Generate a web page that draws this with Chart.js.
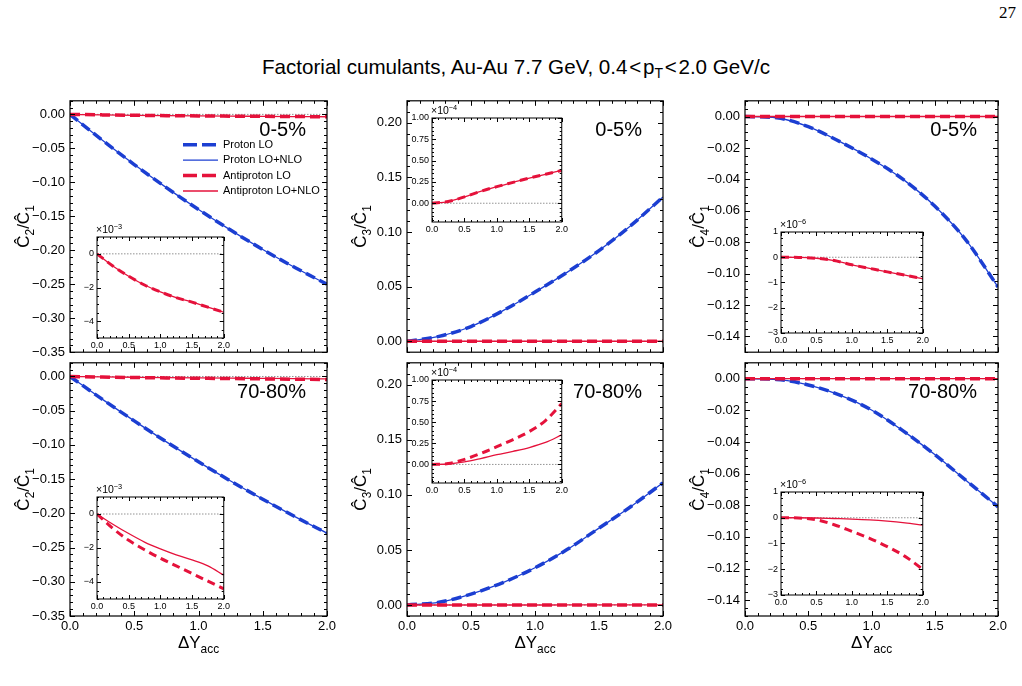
<!DOCTYPE html>
<html>
<head>
<meta charset="utf-8">
<script src="https://cdn.jsdelivr.net/npm/chart.js@4.4.0/dist/chart.umd.min.js"></script>
<style>
  body { margin: 0; background: #fff; }
  #page { position: relative; width: 1022px; height: 686px; overflow: hidden; font-family: "Liberation Sans", Arial, Helvetica, sans-serif; }
  #page canvas { position: absolute; }
  #title { position: absolute; left: 0; width: 1032px; top: 56px; line-height: 22px; text-align: center; font-size: 20.6px; color: #000; }
  #title sub { font-size: 14px; vertical-align: -4px; line-height: 0; }
  #pageno { position: absolute; left: 999px; top: 3px; font-family: "Liberation Serif", "DejaVu Serif", serif; font-size: 17px; }
</style>
</head>
<body>
<div id="page">
  <div id="pageno">27</div>
  <div id="title">Factorial cumulants, Au-Au 7.7 GeV, 0.4&#8202;&lt;&#8202;p<sub>T</sub>&#8202;&lt;&#8202;2.0 GeV/c</div>
</div>
<script>
// acceptance window (x axis) shared by every curve
const dY = [0, 0.25, 0.5, 0.75, 1.0, 1.25, 1.5, 1.75, 2.0];
const xTicks = [0, 0.5, 1.0, 1.5, 2.0];

// C2/C1
const c2ProtonLO_05 = [0, -0.0378, -0.0738, -0.1078, -0.140, -0.1703, -0.1988, -0.2253, -0.250];
const c2ProtonNLO_05 = [0, -0.0378, -0.0738, -0.1078, -0.140, -0.1703, -0.1988, -0.2253, -0.250];
const c2PbarLO_05 = [0, -0.00072, -0.00133, -0.00185, -0.00226, -0.0026, -0.00287, -0.00317, -0.00347];
const c2PbarNLO_05 = [0, -0.00072, -0.00133, -0.00185, -0.00226, -0.0026, -0.00287, -0.00317, -0.00347];
const c2ProtonLO_7080 = [0, -0.0331, -0.0649, -0.0955, -0.1247, -0.1527, -0.1793, -0.2047, -0.229];
const c2ProtonNLO_7080 = [0, -0.0331, -0.0649, -0.0955, -0.1247, -0.1527, -0.1793, -0.2047, -0.229];
const c2PbarLO_7080 = [0, -0.00085, -0.00155, -0.0021, -0.0026, -0.00305, -0.0035, -0.00395, -0.0044];
const c2PbarNLO_7080 = [0, -0.0006, -0.00115, -0.00165, -0.00205, -0.0024, -0.0027, -0.00305, -0.0036];

// C3/C1
const c3ProtonLO_05 = [0, 0.0045, 0.0135, 0.028, 0.045, 0.063, 0.083, 0.106, 0.132];
const c3ProtonNLO_05 = [0, 0.0045, 0.0135, 0.028, 0.045, 0.063, 0.083, 0.106, 0.132];
const c3PbarLO_05 = [0, 0.2e-5, 0.75e-5, 1.4e-5, 1.95e-5, 2.45e-5, 2.95e-5, 3.4e-5, 3.85e-5];
const c3PbarNLO_05 = [0, 0.2e-5, 0.75e-5, 1.4e-5, 1.95e-5, 2.45e-5, 2.95e-5, 3.4e-5, 3.85e-5];
const c3ProtonLO_7080 = [0, 0.0024, 0.0099, 0.0204, 0.0338, 0.0503, 0.0698, 0.0895, 0.111];
const c3ProtonNLO_7080 = [0, 0.0024, 0.0099, 0.0204, 0.0338, 0.0503, 0.0698, 0.0895, 0.111];
const c3PbarLO_7080 = [0, 0.1e-5, 0.6e-5, 1.3e-5, 2.1e-5, 2.95e-5, 3.9e-5, 5.2e-5, 7.2e-5];
const c3PbarNLO_7080 = [0, 0.05e-5, 0.3e-5, 0.7e-5, 1.15e-5, 1.55e-5, 2.0e-5, 2.6e-5, 3.5e-5];

// C4/C1
const c4ProtonLO_05 = [0, -0.0008, -0.0065, -0.016, -0.027, -0.040, -0.057, -0.079, -0.1085];
const c4ProtonNLO_05 = [0, -0.0008, -0.0065, -0.016, -0.027, -0.040, -0.057, -0.079, -0.1085];
const c4PbarLO_05 = [0, -0.005e-6, -0.04e-6, -0.13e-6, -0.3e-6, -0.44e-6, -0.58e-6, -0.71e-6, -0.85e-6];
const c4PbarNLO_05 = [0, -0.005e-6, -0.04e-6, -0.13e-6, -0.3e-6, -0.44e-6, -0.58e-6, -0.71e-6, -0.85e-6];
const c4ProtonLO_7080 = [0, -0.0005, -0.004, -0.0104, -0.0198, -0.033, -0.048, -0.0645, -0.081];
const c4ProtonNLO_7080 = [0, -0.0005, -0.004, -0.0104, -0.0198, -0.033, -0.048, -0.0645, -0.081];
const c4PbarLO_7080 = [0, -0.01e-6, -0.08e-6, -0.27e-6, -0.53e-6, -0.8e-6, -1.12e-6, -1.5e-6, -2.0e-6];
const c4PbarNLO_7080 = [0, 0, -0.01e-6, -0.03e-6, -0.05e-6, -0.08e-6, -0.13e-6, -0.2e-6, -0.29e-6];

// tick values
const c2Ticks = [-0.35, -0.30, -0.25, -0.20, -0.15, -0.10, -0.05, 0.00];
const c3Ticks = [0.00, 0.05, 0.10, 0.15, 0.20];
const c4Ticks = [-0.14, -0.12, -0.10, -0.08, -0.06, -0.04, -0.02, 0.00];
const c2InsetTicks = [-4e-3, -2e-3, 0];
const c3InsetTicks = [0, 0.25e-4, 0.5e-4, 0.75e-4, 1e-4];
const c4InsetTicks = [-3e-6, -2e-6, -1e-6, 0, 1e-6];

const BLUE = '#1c3fd2';
const RED = '#e5123b';
const FONT = '"Liberation Sans", Arial, Helvetica, sans-serif';
Chart.defaults.font.family = FONT;
Chart.defaults.color = '#000';

// panel frames in page pixels
const COLS = [{ l: 70, r: 327 }, { l: 407, r: 663 }, { l: 745, r: 998 }];
const ROWS = [{ t: 98, b: 355 }, { t: 360, b: 616 }];

function pts(vals) {
  return vals.map((v, i) => ({ x: dY[i], y: v }));
}

function fmt(v, dec) {
  if (Math.abs(v) < 1e-12) v = 0;
  return v.toFixed(dec).replace('-', '\u2212');
}

function addCanvas(left, top, w, h) {
  const cv = document.createElement('canvas');
  cv.width = w;
  cv.height = h;
  cv.style.left = left + 'px';
  cv.style.top = top + 'px';
  document.getElementById('page').appendChild(cv);
  return cv;
}

// text with sub (1) / superscript (2) pieces
function drawRich(ctx, parts, x, y, size, align) {
  const widths = parts.map(([t, m]) => {
    ctx.font = (m ? size * 0.7 : size) + 'px ' + FONT;
    return ctx.measureText(t).width;
  });
  const total = widths.reduce((s, w) => s + w, 0);
  let cx = align === 'center' ? x - total / 2 : x;
  ctx.textAlign = 'left';
  ctx.textBaseline = 'alphabetic';
  parts.forEach(([t, m], i) => {
    ctx.font = (m ? size * 0.7 : size) + 'px ' + FONT;
    const dy = m === 1 ? size * 0.28 : m === 2 ? -size * 0.42 : 0;
    ctx.fillText(t, cx, y + dy);
    cx += widths[i];
  });
}

function lineSet(label, vals, color, dashed, order, small) {
  return {
    label: label,
    data: pts(vals),
    borderColor: color,
    borderWidth: dashed ? (small ? 3 : 3.5) : 1.3,
    borderDash: dashed ? (small ? [8, 5] : [10, 5]) : [],
    pointRadius: 0,
    cubicInterpolationMode: 'monotone',
    fill: false,
    order: order
  };
}

function zeroSet() {
  return {
    data: [{ x: xTicks[0], y: 0 }, { x: xTicks[xTicks.length - 1], y: 0 }],
    borderColor: '#777',
    borderWidth: 0.8,
    borderDash: [1.5, 1.5],
    pointRadius: 0,
    order: 9
  };
}

// frame, inward ticks on all sides, labels drawn by hand
function decor(cfg) {
  return {
    id: 'decor',
    beforeDatasetsDraw(chart) {
      if (!cfg.white) return;
      const a = chart.chartArea;
      chart.ctx.save();
      chart.ctx.fillStyle = '#fff';
      chart.ctx.fillRect(a.left, a.top, a.width, a.height);
      chart.ctx.restore();
    },
    afterDatasetsDraw(chart) {
      const { ctx, chartArea: a, scales: { x, y } } = chart;
      const minorVals = (s, step) => {
        const out = [];
        const n0 = Math.ceil(s.min / step - 1e-6), n1 = Math.floor(s.max / step + 1e-6);
        for (let k = n0; k <= n1; k++) out.push(k * step);
        return out;
      };
      ctx.save();
      ctx.strokeStyle = '#000';
      ctx.lineWidth = 1;
      ctx.beginPath();
      const vt = (vals, len) => vals.forEach(v => {
        const px = Math.round(x.getPixelForValue(v)) + 0.5;
        ctx.moveTo(px, a.bottom); ctx.lineTo(px, a.bottom - len);
        ctx.moveTo(px, a.top); ctx.lineTo(px, a.top + len);
      });
      const ht = (vals, len) => vals.forEach(v => {
        const py = Math.round(y.getPixelForValue(v)) + 0.5;
        ctx.moveTo(a.left, py); ctx.lineTo(a.left + len, py);
        ctx.moveTo(a.right, py); ctx.lineTo(a.right - len, py);
      });
      vt(minorVals(x, cfg.xMinor), cfg.minorLen);
      vt(xTicks, cfg.majorLen);
      ht(minorVals(y, cfg.yMinor), cfg.minorLen);
      ht(cfg.yTicks, cfg.majorLen);
      ctx.stroke();
      ctx.lineWidth = cfg.frameWidth;
      ctx.strokeRect(a.left, a.top, a.width, a.height);
      ctx.restore();
    },
    afterDraw(chart) {
      const { ctx, chartArea: a } = chart;
      ctx.save();
      ctx.fillStyle = '#000';
      if (cfg.yTitle) {
        ctx.save();
        ctx.translate(a.left - 41, (a.top + a.bottom) / 2);
        ctx.rotate(-Math.PI / 2);
        drawRich(ctx, cfg.yTitle, 0, 0, 17, 'center');
        ctx.restore();
      }
      if (cfg.xTitle) {
        drawRich(ctx, cfg.xTitle, (a.left + a.right) / 2, a.bottom + 32, 17, 'center');
      }
      if (cfg.corner) {
        ctx.font = '20px ' + FONT;
        ctx.textAlign = 'right';
        ctx.textBaseline = 'middle';
        ctx.fillText(cfg.corner, a.right - 21, a.top + 29.5);
      }
      if (cfg.exp) {
        drawRich(ctx, [['\u00d710', 0], [cfg.exp, 2]], a.left - 1, a.top - 4, 10.5, 'left');
      }
      if (cfg.legend) {
        chart.data.datasets.filter(d => d.label).forEach((d, i) => {
          const yy = a.top + 44 + i * 15.4;
          ctx.strokeStyle = d.borderColor;
          ctx.lineWidth = d.borderWidth;
          ctx.setLineDash(d.borderDash.length ? [14, 5] : []);
          ctx.beginPath();
          ctx.moveTo(a.left + 113, yy);
          ctx.lineTo(a.left + 148, yy);
          ctx.stroke();
          ctx.setLineDash([]);
          ctx.font = '11px ' + FONT;
          ctx.textAlign = 'left';
          ctx.textBaseline = 'middle';
          ctx.fillText(d.label, a.left + 153, yy);
        });
      }
      ctx.restore();
    }
  };
}

function makeMain(col, row, cfg) {
  const bottom = row === ROWS[1];
  const cv = addCanvas(col.l - 70, row.t - 10, col.r - col.l + 84, row.b - row.t + (bottom ? 65 : 20));
  new Chart(cv, {
    type: 'line',
    data: {
      datasets: [
        lineSet('Proton LO', cfg.pLO, BLUE, true, 4),
        lineSet('Proton LO+NLO', cfg.pNLO, BLUE, false, 3),
        lineSet('Antiproton LO', cfg.aLO, RED, true, 2),
        lineSet('Antiproton LO+NLO', cfg.aNLO, RED, false, 1),
        zeroSet()
      ]
    },
    options: {
      responsive: false,
      animation: false,
      layout: { padding: { left: 0, right: 14, top: 10, bottom: bottom ? 0 : 10 } },
      plugins: { legend: { display: false }, tooltip: { enabled: false } },
      scales: {
        x: {
          type: 'linear', min: 0, max: 2,
          grid: { display: false, drawTicks: false },
          border: { display: false },
          afterBuildTicks: s => { s.ticks = xTicks.map(v => ({ value: v })); },
          afterFit: s => { s.height = bottom ? 55 : 0; },
          ticks: { display: bottom, padding: 3, autoSkip: false, maxRotation: 0, font: { size: 13 }, callback: v => fmt(v, 1) }
        },
        y: {
          type: 'linear', min: cfg.yMin, max: cfg.yMax,
          grid: { display: false, drawTicks: false },
          border: { display: false },
          afterBuildTicks: s => { s.ticks = cfg.yTicks.map(v => ({ value: v })); },
          afterFit: s => { s.width = 70; },
          ticks: { padding: 5, autoSkip: false, font: { size: 13 }, callback: v => fmt(v, 2) }
        }
      }
    },
    plugins: [decor({
      yTicks: cfg.yTicks, xMinor: 0.1, yMinor: cfg.yMinor,
      majorLen: 5, minorLen: 3, frameWidth: 1.2,
      yTitle: cfg.yTitle,
      xTitle: bottom ? [['\u0394Y', 0], ['acc', 1]] : null,
      corner: bottom ? '70-80%' : '0-5%',
      legend: cfg.legend
    })]
  });
}

function makeInset(box, cfg) {
  const cv = addCanvas(box.l - 30, box.t - 16, box.r - box.l + 38, box.b - box.t + 30);
  new Chart(cv, {
    type: 'line',
    data: {
      datasets: [
        lineSet('Antiproton LO', cfg.aLO, RED, true, 2, true),
        lineSet('Antiproton LO+NLO', cfg.aNLO, RED, false, 1, true),
        zeroSet()
      ]
    },
    options: {
      responsive: false,
      animation: false,
      layout: { padding: { left: 0, right: 8, top: 16, bottom: 0 } },
      plugins: { legend: { display: false }, tooltip: { enabled: false } },
      scales: {
        x: {
          type: 'linear', min: 0, max: 2,
          grid: { display: false, drawTicks: false },
          border: { display: false },
          afterBuildTicks: s => { s.ticks = xTicks.map(v => ({ value: v })); },
          afterFit: s => { s.height = 14; },
          ticks: { padding: 2, autoSkip: false, maxRotation: 0, font: { size: 9 }, callback: v => fmt(v, 1) }
        },
        y: {
          type: 'linear', min: cfg.yMin, max: cfg.yMax,
          grid: { display: false, drawTicks: false },
          border: { display: false },
          afterBuildTicks: s => { s.ticks = cfg.yTicks.map(v => ({ value: v })); },
          afterFit: s => { s.width = 30; },
          ticks: { padding: 3, autoSkip: false, font: { size: 9 }, callback: v => fmt(v / cfg.unit, cfg.dec) }
        }
      }
    },
    plugins: [decor({
      white: true, yTicks: cfg.yTicks, xMinor: 0.1, yMinor: cfg.yMinor,
      majorLen: 4, minorLen: 2, frameWidth: 1, exp: cfg.exp
    })]
  });
}

const c2Title = [['\u0108', 0], ['2', 1], ['/\u0108', 0], ['1', 1]];
const c3Title = [['\u0108', 0], ['3', 1], ['/\u0108', 0], ['1', 1]];
const c4Title = [['\u0108', 0], ['4', 1], ['/\u0108', 0], ['1', 1]];

// main panels
makeMain(COLS[0], ROWS[0], { pLO: c2ProtonLO_05, pNLO: c2ProtonNLO_05, aLO: c2PbarLO_05, aNLO: c2PbarNLO_05,
  yMin: -0.35, yMax: 0.02, yTicks: c2Ticks, yMinor: 0.01, yTitle: c2Title, legend: true });
makeMain(COLS[0], ROWS[1], { pLO: c2ProtonLO_7080, pNLO: c2ProtonNLO_7080, aLO: c2PbarLO_7080, aNLO: c2PbarNLO_7080,
  yMin: -0.35, yMax: 0.02, yTicks: c2Ticks, yMinor: 0.01, yTitle: c2Title });
makeMain(COLS[1], ROWS[0], { pLO: c3ProtonLO_05, pNLO: c3ProtonNLO_05, aLO: c3PbarLO_05, aNLO: c3PbarNLO_05,
  yMin: -0.01, yMax: 0.22, yTicks: c3Ticks, yMinor: 0.01, yTitle: c3Title });
makeMain(COLS[1], ROWS[1], { pLO: c3ProtonLO_7080, pNLO: c3ProtonNLO_7080, aLO: c3PbarLO_7080, aNLO: c3PbarNLO_7080,
  yMin: -0.01, yMax: 0.22, yTicks: c3Ticks, yMinor: 0.01, yTitle: c3Title });
makeMain(COLS[2], ROWS[0], { pLO: c4ProtonLO_05, pNLO: c4ProtonNLO_05, aLO: c4PbarLO_05, aNLO: c4PbarNLO_05,
  yMin: -0.15, yMax: 0.01, yTicks: c4Ticks, yMinor: 0.005, yTitle: c4Title });
makeMain(COLS[2], ROWS[1], { pLO: c4ProtonLO_7080, pNLO: c4ProtonNLO_7080, aLO: c4PbarLO_7080, aNLO: c4PbarNLO_7080,
  yMin: -0.15, yMax: 0.01, yTicks: c4Ticks, yMinor: 0.005, yTitle: c4Title });

// insets (antiproton zoom)
makeInset({ l: 97, r: 224, t: 237, b: 338 }, { aLO: c2PbarLO_05, aNLO: c2PbarNLO_05,
  yMin: -5e-3, yMax: 1e-3, yTicks: c2InsetTicks, yMinor: 0.5e-3, unit: 1e-3, dec: 0, exp: '\u22123' });
makeInset({ l: 97, r: 224, t: 497, b: 599 }, { aLO: c2PbarLO_7080, aNLO: c2PbarNLO_7080,
  yMin: -5e-3, yMax: 1e-3, yTicks: c2InsetTicks, yMinor: 0.5e-3, unit: 1e-3, dec: 0, exp: '\u22123' });
makeInset({ l: 432, r: 562, t: 118, b: 222 }, { aLO: c3PbarLO_05, aNLO: c3PbarNLO_05,
  yMin: -0.22e-4, yMax: 1e-4, yTicks: c3InsetTicks, yMinor: 0.05e-4, unit: 1e-4, dec: 2, exp: '\u22124' });
makeInset({ l: 432, r: 562, t: 380, b: 483 }, { aLO: c3PbarLO_7080, aNLO: c3PbarNLO_7080,
  yMin: -0.22e-4, yMax: 1e-4, yTicks: c3InsetTicks, yMinor: 0.05e-4, unit: 1e-4, dec: 2, exp: '\u22124' });
makeInset({ l: 781, r: 923, t: 232, b: 333 }, { aLO: c4PbarLO_05, aNLO: c4PbarNLO_05,
  yMin: -3e-6, yMax: 1e-6, yTicks: c4InsetTicks, yMinor: 0.25e-6, unit: 1e-6, dec: 0, exp: '\u22126' });
makeInset({ l: 781, r: 923, t: 492, b: 595 }, { aLO: c4PbarLO_7080, aNLO: c4PbarNLO_7080,
  yMin: -3e-6, yMax: 1e-6, yTicks: c4InsetTicks, yMinor: 0.25e-6, unit: 1e-6, dec: 0, exp: '\u22126' });
</script>
</body>
</html>
